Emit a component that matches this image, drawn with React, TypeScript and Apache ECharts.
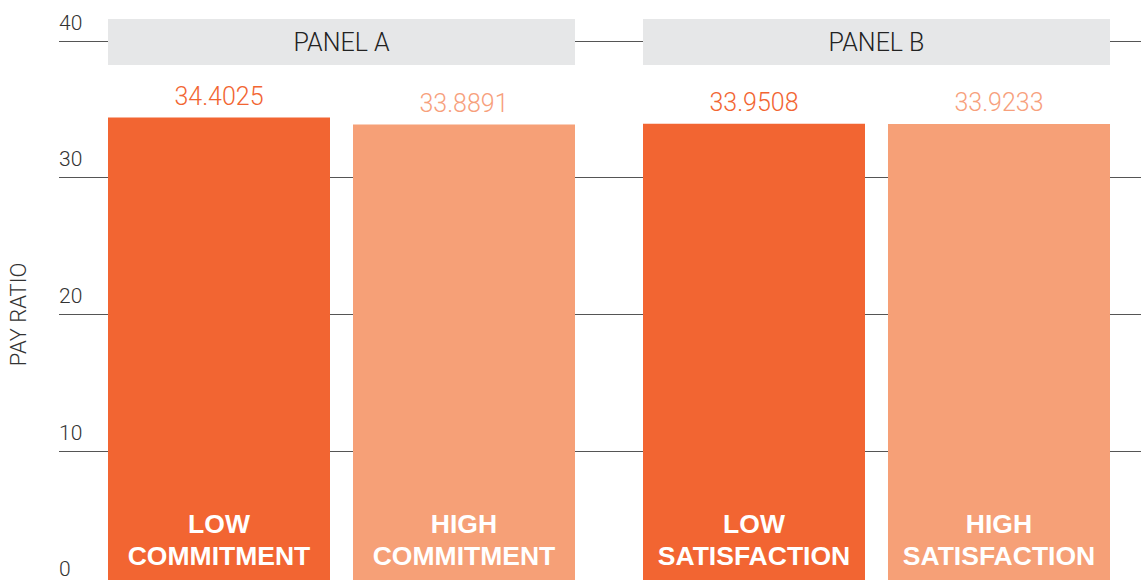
import React, { useEffect, useRef } from "react";
import * as echarts from "echarts";

const PANELS = ["PANEL A", "PANEL B"];
const LOW_NAMES = ["LOW\nCOMMITMENT", "LOW\nSATISFACTION"];
const HIGH_NAMES = ["HIGH\nCOMMITMENT", "HIGH\nSATISFACTION"];
const LOW_VALUES = [34.4025, 33.9508];
const HIGH_VALUES = [33.8891, 33.9233];
const Y_MIN = 0;
const Y_MAX = 40;
const Y_INTERVAL = 10;

const DARK = "#f26532";
const LIGHT = "#f6a077";
const BAR_W = 222;
const BAR_GAP = 23;
const LIGHT_FONT = "Roboto, 'Liberation Sans', sans-serif";
const BOLD_FONT = "'Liberation Sans', Arial, sans-serif";

export default function App() {
  const ref = useRef<HTMLDivElement>(null);
  useEffect(() => {
    document.body.style.margin = "0";
    const chart = echarts.init(ref.current!, null, { renderer: "svg" });
    const gridTop = 41;
    const gridHeight = 546.7;
    const nameLabel = (names: string[]) => ({
      show: true,
      position: "insideBottom" as const,
      distance: 16,
      formatter: (p: any) => names[p.dataIndex],
      color: "#ffffff",
      fontFamily: BOLD_FONT,
      fontWeight: "bold" as const,
      fontSize: 26.5,
      lineHeight: 32,
      align: "center" as const,
    });
    const valueLabel = (vals: number[], color: string) => ({
      show: true,
      position: "top" as const,
      distance: 9,
      formatter: (p: any) => vals[p.dataIndex].toFixed(4),
      color,
      fontFamily: LIGHT_FONT,
      fontWeight: 300,
      fontSize: 25,
    });
    const gapPct = `${((BAR_GAP / BAR_W) * 100).toFixed(2)}%`;
    chart.setOption({
      animation: false,
      grid: [
        {
          left: 59,
          width: 1082,
          top: gridTop,
          height: gridHeight,
          containLabel: false,
          outerBoundsMode: "none",
        },
        {
          left: 74,
          width: 1070,
          top: gridTop,
          height: gridHeight,
          containLabel: false,
          outerBoundsMode: "none",
        },
      ],
      xAxis: [
        { type: "category", gridIndex: 0, data: [""], show: false },
        { type: "category", gridIndex: 1, data: PANELS, show: false },
      ],
      yAxis: [
        {
          type: "value",
          gridIndex: 0,
          min: Y_MIN,
          max: Y_MAX,
          interval: Y_INTERVAL,
          name: "PAY RATIO",
          nameLocation: "middle",
          nameRotate: 90,
          nameGap: 30,
          nameTextStyle: {
            fontFamily: LIGHT_FONT,
            fontWeight: 300,
            fontSize: 22,
            color: "#333",
          },
          axisLine: { show: false },
          axisTick: { show: false },
          axisLabel: {
            inside: true,
            align: "left",
            verticalAlign: "bottom",
            margin: 0,
            lineHeight: 21,
            padding: [0, 0, 8, 0],
            fontFamily: LIGHT_FONT,
            fontWeight: 300,
            fontSize: 21,
            color: "#333",
            showMinLabel: true,
            showMaxLabel: true,
          },
          splitLine: { show: true, lineStyle: { color: "#555", width: 1 } },
        },
        {
          type: "value",
          gridIndex: 1,
          min: Y_MIN,
          max: Y_MAX,
          interval: Y_INTERVAL,
          show: false,
          splitLine: { show: false },
        },
      ],
      series: [
        {
          type: "bar",
          xAxisIndex: 1,
          yAxisIndex: 1,
          stack: "low",
          data: LOW_VALUES,
          barWidth: BAR_W,
          barGap: gapPct,
          itemStyle: { color: DARK },
          label: nameLabel(LOW_NAMES),
          z: 3,
        },
        {
          type: "bar",
          xAxisIndex: 1,
          yAxisIndex: 1,
          stack: "low",
          data: LOW_VALUES.map(() => 0),
          barWidth: BAR_W,
          itemStyle: { color: "rgba(0,0,0,0)" },
          label: valueLabel(LOW_VALUES, DARK),
          z: 3,
        },
        {
          type: "bar",
          xAxisIndex: 1,
          yAxisIndex: 1,
          stack: "high",
          data: HIGH_VALUES,
          barWidth: BAR_W,
          barGap: gapPct,
          itemStyle: { color: LIGHT },
          label: nameLabel(HIGH_NAMES),
          z: 3,
        },
        {
          type: "bar",
          xAxisIndex: 1,
          yAxisIndex: 1,
          stack: "high",
          data: HIGH_VALUES.map(() => 0),
          barWidth: BAR_W,
          barGap: gapPct,
          itemStyle: { color: "rgba(0,0,0,0)" },
          label: valueLabel(HIGH_VALUES, "#f7a07c"),
          z: 3,
        },
        {
          type: "custom",
          xAxisIndex: 1,
          yAxisIndex: 1,
          clip: false,
          data: PANELS.map((p, i) => [i, p]),
          renderItem: (params: any, api: any) => {
            const c = api.coord([api.value(0), Y_MAX]);
            const w = BAR_W * 2 + BAR_GAP;
            return {
              type: "group",
              children: [
                {
                  type: "rect",
                  shape: { x: c[0] - w / 2, y: c[1] - 22, width: w, height: 46 },
                  style: { fill: "#e6e7e8" },
                },
                {
                  type: "text",
                  x: c[0],
                  y: c[1] + 1,
                  style: {
                    text: PANELS[params.dataIndex],
                    align: "center",
                    verticalAlign: "middle",
                    fontFamily: LIGHT_FONT,
                    fontWeight: 300,
                    fontSize: 25,
                    fill: "#222",
                  },
                },
              ],
            };
          },
        },
      ],
    });
    return () => chart.dispose();
  }, []);
  return <div ref={ref} style={{ width: 1141, height: 580 }} />;
}
